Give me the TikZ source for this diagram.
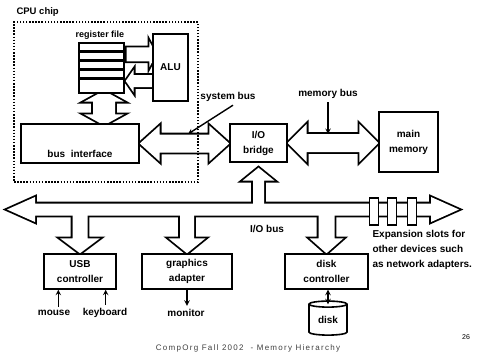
\documentclass[tikz,border=0pt]{standalone}
\usepackage{fontspec}
\setmainfont{Liberation Sans}
\usetikzlibrary{calc, backgrounds, shapes.geometric}
\tikzset{>=stealth, % solid arrow heads
box/.style={draw, line width=1.4pt, fill=white, align=center, font=\bfseries\fontsize{10}{15}\selectfont}, % the unit boxes
lbl/.style={align=center, font=\bfseries\fontsize{10}{15}\selectfont}, % plain labels
busline/.style={draw=black, line width=3.6pt}, % first pass of the fat arrows
busfill/.style={fill=white}, % second pass, clears the inside so the arrows join
wire/.style={->, line width=1.4pt}, % thin signal arrows
}
% fat two-way arrow, #1 left end, #2 right end, #3 shaft half, #4 head half, #5 head length
\newcommand{\dblbus}[5]{let \p1=(#1), \p2=(#2) in
    (\x1,\y1) -- (\x1+#5pt,\y1+#4pt) -- (\x1+#5pt,\y1+#3pt) -- (\x2-#5pt,\y1+#3pt) -- (\x2-#5pt,\y1+#4pt)
    -- (\x2,\y1) -- (\x2-#5pt,\y1-#4pt) -- (\x2-#5pt,\y1-#3pt) -- (\x1+#5pt,\y1-#3pt) -- (\x1+#5pt,\y1-#4pt) -- cycle}
% same, standing up, #1 top end, #2 bottom end
\newcommand{\vdblbus}[5]{let \p1=(#1), \p2=(#2) in
    (\x1,\y1) -- (\x1+#4pt,\y1-#5pt) -- (\x1+#3pt,\y1-#5pt) -- (\x1+#3pt,\y2+#5pt) -- (\x1+#4pt,\y2+#5pt)
    -- (\x1,\y2) -- (\x1-#4pt,\y2+#5pt) -- (\x1-#3pt,\y2+#5pt) -- (\x1-#3pt,\y1-#5pt) -- (\x1-#4pt,\y1-#5pt) -- cycle}
% fat one-way arrow from #1 to #2, sideways (negative length points left)
\newcommand{\hbus}[5]{let \p1=(#1), \p2=(#2) in
    (\x1,\y1+#3pt) -- ({\x2-(#5pt)},\y1+#3pt) -- ({\x2-(#5pt)},\y1+#4pt) -- (\x2,\y1)
    -- ({\x2-(#5pt)},\y1-#4pt) -- ({\x2-(#5pt)},\y1-#3pt) -- (\x1,\y1-#3pt) -- cycle}
% fat one-way arrow from #1 to #2, up or down (negative length points down)
\newcommand{\vbus}[5]{let \p1=(#1), \p2=(#2) in
    (\x1+#3pt,\y1) -- (\x1+#3pt,{\y2-(#5pt)}) -- (\x1+#4pt,{\y2-(#5pt)}) -- (\x1,\y2)
    -- (\x1-#4pt,{\y2-(#5pt)}) -- (\x1-#3pt,{\y2-(#5pt)}) -- (\x1-#3pt,\y1) -- cycle}

\begin{document}
\begin{tikzpicture}[x=1pt, y=-1pt]
    \useasboundingbox (0,0) rectangle (484,354);

    % units
    \node[box, minimum width=45, minimum height=50] (regfile) at (101.5,68) {};
    \foreach \i in {1,...,4}
        \draw[line width=3.5pt] ($(regfile.north west)+(0,\i*9)$) -- ($(regfile.north east)+(0,\i*9)$);
    \node[box, minimum width=35, minimum height=67] (alu) at (170.5,67.5) {ALU};
    \node[box, minimum width=118, minimum height=39] (busif) at (80,143.5) {};
    \node[lbl] (busiftext) at ($(busif)+(0,10)$) {bus\ \ interface};
    \node[box, minimum width=57, minimum height=38] (bridge) at (258.5,143) {I/O\\bridge};
    \node[box, minimum width=59, minimum height=60] (mainmem) at (408.5,142) {main\\memory};
    \node[box, minimum width=72, minimum height=35] (usb) at (80,271.5) {USB\\controller};
    \node[box, minimum width=90, minimum height=35] (graphics) at (187,271.5) {graphics\\adapter};
    \node[box, minimum width=83, minimum height=35] (diskctl) at (326.5,271.5) {disk\\controller};
    \node[box, cylinder, shape border rotate=90, aspect=0.3, minimum width=38, minimum height=34, inner sep=0pt, line width=1.6pt] (disk) at (328,320) {disk};
    \foreach \x/\n in {374/1, 392/2, 412/3}
        \node[box, minimum width=9, minimum height=27, inner sep=0pt] (slot\n) at (\x,211.5) {};

    % labels
    \node[lbl, anchor=west, font=\bfseries\fontsize{9.5}{12}\selectfont] (cpulabel) at (13,12) {CPU chip};
    \node[lbl, font=\bfseries\fontsize{9}{12}\selectfont] (rflabel) at (100,35) {register file};
    \node[lbl] (sysbus) at (228,97) {system bus};
    \node[lbl] (membus) at (328,94) {memory bus};
    \node[lbl] (iobus) at (267,229) {I/O bus};
    \node[lbl, anchor=west, align=left] (slotnote) at (369,250) {Expansion slots for\\other devices such\\as network adapters.};
    \node[lbl] (mouse) at (54,313) {mouse};
    \node[lbl] (keyboard) at (105,313) {keyboard};
    \node[lbl] (monitor) at (186,313) {monitor};
    \node[font=\fontsize{8}{10}\selectfont\addfontfeature{LetterSpace=16}, text=black!75] (footer) at (248,348) {CompOrg Fall 2002\ \ - Memory Hierarchy};
    \node[font=\fontsize{7}{8}\selectfont] (pagenum) at (466,337) {26};

    \node[draw, line width=1.5pt, dash pattern=on 1.5pt off 1.6pt, minimum width=184, minimum height=160] (cpuchip) at (106,102) {};

    % end points of the fat arrows
    \coordinate (iobusL) at (7,209.5);
    \coordinate (iobusR) at (459,209.5);
    \coordinate (rfA) at ($(regfile.north east)+(2,12)$);
    \coordinate (aluA) at ($(alu.west |- rfA)+(4,0)$);
    \coordinate (aluB) at ($(alu.west)+(6,13.5)$);
    \coordinate (rfB) at ($(regfile.east |- aluB)+(1,0)$);
    \coordinate (sysptr) at (188,134);
    \coordinate (mousein) at ($(usb.south west)+(15,0)$);
    \coordinate (keyin) at ($(usb.south east)+(-11,0)$);

    \begin{pgfonlayer}{background}
        \foreach \pass in {busline, busfill} {
            \path[\pass] \dblbus{busif.east}{bridge.west}{9}{18}{20};
            \path[\pass] \dblbus{bridge.east}{mainmem.west}{9}{19}{19};
            \path[\pass] \dblbus{iobusL}{iobusR}{6}{12.5}{28};
            \path[\pass] \vdblbus{$(regfile.south)+(2.5,-3)$}{$(regfile.south |- busif.north)+(2.5,2)$}{11}{20}{11};
            \path[\pass] \hbus{rfA}{aluA}{7}{13}{7};
            \path[\pass] \hbus{aluB}{rfB}{6}{11.5}{-8};
            \path[\pass] \vbus{bridge.south |- iobusL}{$(bridge.south)+(0,5)$}{5.5}{16}{13};
            \path[\pass] \vbus{usb.north |- iobusL}{usb.north}{7.5}{20}{-15};
            \path[\pass] \vbus{graphics.north |- iobusL}{graphics.north}{7}{18.5}{-15};
            \path[\pass] \vbus{diskctl.north |- iobusL}{diskctl.north}{8}{17}{-15};
        }
    \end{pgfonlayer}

    % thin arrows
    \draw[wire] ($(sysbus.south)+(5,0)$) -- (sysptr);
    \draw[wire] (membus.south) -- (membus.south |- sysptr);
    \draw[wire] (mousein |- mouse.north) -- (mousein);
    \draw[wire] (keyin |- keyboard.north) -- (keyin);
    \draw[wire] (graphics.south) -- (graphics.south |- monitor.north);
    \draw[wire, <->] (disk.north |- diskctl.south) -- ($(disk.north)+(0,4)$);
\end{tikzpicture}
\end{document}
